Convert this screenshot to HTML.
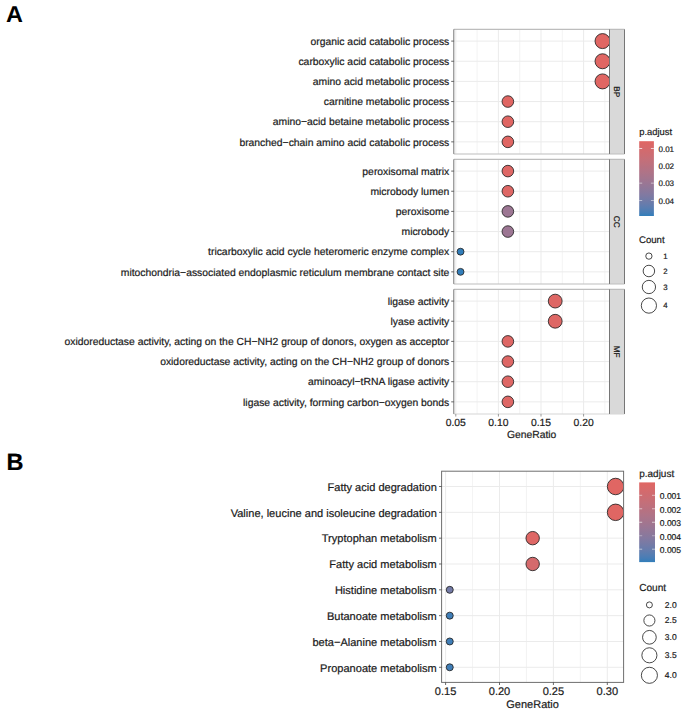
<!DOCTYPE html>
<html><head><meta charset="utf-8"><style>
html,body{margin:0;padding:0;background:#fff;}
svg{display:block;}
</style></head><body>
<svg width="685" height="712" viewBox="0 0 685 712">
<rect width="685" height="712" fill="#ffffff"/>
<g font-family="&quot;Liberation Sans&quot;, sans-serif" text-rendering="geometricPrecision">
<text x="0" y="0" font-size="23.0" font-weight="bold" fill="#000" transform="translate(6.0,22.2) scale(1.02,1)">A</text>
<rect x="453.80" y="29.35" width="155.70" height="124.60" fill="#ffffff" stroke="none" stroke-width="0"/>
<line x1="477.10" y1="29.35" x2="477.10" y2="153.95" stroke="#ebebeb" stroke-width="0.6"/>
<line x1="519.70" y1="29.35" x2="519.70" y2="153.95" stroke="#ebebeb" stroke-width="0.6"/>
<line x1="562.30" y1="29.35" x2="562.30" y2="153.95" stroke="#ebebeb" stroke-width="0.6"/>
<line x1="604.90" y1="29.35" x2="604.90" y2="153.95" stroke="#ebebeb" stroke-width="0.6"/>
<line x1="455.80" y1="29.35" x2="455.80" y2="153.95" stroke="#ebebeb" stroke-width="1.0"/>
<line x1="498.40" y1="29.35" x2="498.40" y2="153.95" stroke="#ebebeb" stroke-width="1.0"/>
<line x1="541.00" y1="29.35" x2="541.00" y2="153.95" stroke="#ebebeb" stroke-width="1.0"/>
<line x1="583.60" y1="29.35" x2="583.60" y2="153.95" stroke="#ebebeb" stroke-width="1.0"/>
<line x1="453.80" y1="41.10" x2="609.50" y2="41.10" stroke="#ebebeb" stroke-width="1.0"/>
<line x1="453.80" y1="61.25" x2="609.50" y2="61.25" stroke="#ebebeb" stroke-width="1.0"/>
<line x1="453.80" y1="81.40" x2="609.50" y2="81.40" stroke="#ebebeb" stroke-width="1.0"/>
<line x1="453.80" y1="101.55" x2="609.50" y2="101.55" stroke="#ebebeb" stroke-width="1.0"/>
<line x1="453.80" y1="121.70" x2="609.50" y2="121.70" stroke="#ebebeb" stroke-width="1.0"/>
<line x1="453.80" y1="141.85" x2="609.50" y2="141.85" stroke="#ebebeb" stroke-width="1.0"/>
<clipPath id="clipA0"><rect x="453.8" y="29.35" width="155.7" height="124.6"/></clipPath>
<g clip-path="url(#clipA0)">
<circle cx="602.53" cy="41.10" r="7.50" fill="#e06663" stroke="#222222" stroke-width="0.85"/>
<circle cx="602.53" cy="61.25" r="7.50" fill="#e06663" stroke="#222222" stroke-width="0.85"/>
<circle cx="602.53" cy="81.40" r="7.50" fill="#e06663" stroke="#222222" stroke-width="0.85"/>
<circle cx="507.87" cy="101.55" r="5.80" fill="#e06663" stroke="#222222" stroke-width="0.85"/>
<circle cx="507.87" cy="121.70" r="5.80" fill="#e06663" stroke="#222222" stroke-width="0.85"/>
<circle cx="507.87" cy="141.85" r="5.80" fill="#e06663" stroke="#222222" stroke-width="0.85"/>
</g>
<rect x="609.50" y="29.35" width="15.00" height="124.60" fill="#d9d9d9" stroke="none" stroke-width="0"/>
<line x1="453.80" y1="29.35" x2="624.50" y2="29.35" stroke="#bdbdbd" stroke-width="1.1"/>
<line x1="453.80" y1="153.95" x2="624.50" y2="153.95" stroke="#bdbdbd" stroke-width="1.1"/>
<line x1="453.80" y1="29.35" x2="453.80" y2="153.95" stroke="#767676" stroke-width="1.0"/>
<line x1="609.50" y1="29.35" x2="609.50" y2="153.95" stroke="#767676" stroke-width="1.0"/>
<line x1="624.50" y1="29.35" x2="624.50" y2="153.95" stroke="#767676" stroke-width="1.0"/>
<text x="0" y="0" font-size="8.2" text-anchor="middle" fill="#1a1a1a" stroke="#1a1a1a" stroke-width="0.25" transform="translate(614.10,91.65) rotate(90)">BP</text>
<line x1="451.20" y1="41.10" x2="453.80" y2="41.10" stroke="#444444" stroke-width="0.8"/>
<text x="449.30" y="44.85" font-size="10.37" text-anchor="end" fill="#1a1a1a" font-weight="normal" stroke="#1a1a1a" stroke-width="0.2" >organic acid catabolic process</text>
<line x1="451.20" y1="61.25" x2="453.80" y2="61.25" stroke="#444444" stroke-width="0.8"/>
<text x="449.30" y="65.00" font-size="10.37" text-anchor="end" fill="#1a1a1a" font-weight="normal" stroke="#1a1a1a" stroke-width="0.2" >carboxylic acid catabolic process</text>
<line x1="451.20" y1="81.40" x2="453.80" y2="81.40" stroke="#444444" stroke-width="0.8"/>
<text x="449.30" y="85.15" font-size="10.37" text-anchor="end" fill="#1a1a1a" font-weight="normal" stroke="#1a1a1a" stroke-width="0.2" >amino acid metabolic process</text>
<line x1="451.20" y1="101.55" x2="453.80" y2="101.55" stroke="#444444" stroke-width="0.8"/>
<text x="449.30" y="105.30" font-size="10.37" text-anchor="end" fill="#1a1a1a" font-weight="normal" stroke="#1a1a1a" stroke-width="0.2" >carnitine metabolic process</text>
<line x1="451.20" y1="121.70" x2="453.80" y2="121.70" stroke="#444444" stroke-width="0.8"/>
<text x="449.30" y="125.45" font-size="10.37" text-anchor="end" fill="#1a1a1a" font-weight="normal" stroke="#1a1a1a" stroke-width="0.2" >amino−acid betaine metabolic process</text>
<line x1="451.20" y1="141.85" x2="453.80" y2="141.85" stroke="#444444" stroke-width="0.8"/>
<text x="449.30" y="145.60" font-size="10.37" text-anchor="end" fill="#1a1a1a" font-weight="normal" stroke="#1a1a1a" stroke-width="0.2" >branched−chain amino acid catabolic process</text>
<rect x="453.80" y="159.35" width="155.70" height="124.60" fill="#ffffff" stroke="none" stroke-width="0"/>
<line x1="477.10" y1="159.35" x2="477.10" y2="283.95" stroke="#ebebeb" stroke-width="0.6"/>
<line x1="519.70" y1="159.35" x2="519.70" y2="283.95" stroke="#ebebeb" stroke-width="0.6"/>
<line x1="562.30" y1="159.35" x2="562.30" y2="283.95" stroke="#ebebeb" stroke-width="0.6"/>
<line x1="604.90" y1="159.35" x2="604.90" y2="283.95" stroke="#ebebeb" stroke-width="0.6"/>
<line x1="455.80" y1="159.35" x2="455.80" y2="283.95" stroke="#ebebeb" stroke-width="1.0"/>
<line x1="498.40" y1="159.35" x2="498.40" y2="283.95" stroke="#ebebeb" stroke-width="1.0"/>
<line x1="541.00" y1="159.35" x2="541.00" y2="283.95" stroke="#ebebeb" stroke-width="1.0"/>
<line x1="583.60" y1="159.35" x2="583.60" y2="283.95" stroke="#ebebeb" stroke-width="1.0"/>
<line x1="453.80" y1="171.10" x2="609.50" y2="171.10" stroke="#ebebeb" stroke-width="1.0"/>
<line x1="453.80" y1="191.25" x2="609.50" y2="191.25" stroke="#ebebeb" stroke-width="1.0"/>
<line x1="453.80" y1="211.40" x2="609.50" y2="211.40" stroke="#ebebeb" stroke-width="1.0"/>
<line x1="453.80" y1="231.55" x2="609.50" y2="231.55" stroke="#ebebeb" stroke-width="1.0"/>
<line x1="453.80" y1="251.70" x2="609.50" y2="251.70" stroke="#ebebeb" stroke-width="1.0"/>
<line x1="453.80" y1="271.85" x2="609.50" y2="271.85" stroke="#ebebeb" stroke-width="1.0"/>
<clipPath id="clipA1"><rect x="453.8" y="159.35" width="155.7" height="124.6"/></clipPath>
<g clip-path="url(#clipA1)">
<circle cx="507.87" cy="171.10" r="5.80" fill="#de6765" stroke="#222222" stroke-width="0.85"/>
<circle cx="507.87" cy="191.25" r="5.80" fill="#de6765" stroke="#222222" stroke-width="0.85"/>
<circle cx="507.87" cy="211.40" r="5.80" fill="#9c7693" stroke="#222222" stroke-width="0.85"/>
<circle cx="507.87" cy="231.55" r="5.80" fill="#9c7693" stroke="#222222" stroke-width="0.85"/>
<circle cx="460.53" cy="251.70" r="3.45" fill="#327eba" stroke="#222222" stroke-width="0.85"/>
<circle cx="460.53" cy="271.85" r="3.45" fill="#327eba" stroke="#222222" stroke-width="0.85"/>
</g>
<rect x="609.50" y="159.35" width="15.00" height="124.60" fill="#d9d9d9" stroke="none" stroke-width="0"/>
<line x1="453.80" y1="159.35" x2="624.50" y2="159.35" stroke="#bdbdbd" stroke-width="1.1"/>
<line x1="453.80" y1="283.95" x2="624.50" y2="283.95" stroke="#bdbdbd" stroke-width="1.1"/>
<line x1="453.80" y1="159.35" x2="453.80" y2="283.95" stroke="#767676" stroke-width="1.0"/>
<line x1="609.50" y1="159.35" x2="609.50" y2="283.95" stroke="#767676" stroke-width="1.0"/>
<line x1="624.50" y1="159.35" x2="624.50" y2="283.95" stroke="#767676" stroke-width="1.0"/>
<text x="0" y="0" font-size="8.2" text-anchor="middle" fill="#1a1a1a" stroke="#1a1a1a" stroke-width="0.25" transform="translate(614.10,221.65) rotate(90)">CC</text>
<line x1="451.20" y1="171.10" x2="453.80" y2="171.10" stroke="#444444" stroke-width="0.8"/>
<text x="449.30" y="174.85" font-size="10.37" text-anchor="end" fill="#1a1a1a" font-weight="normal" stroke="#1a1a1a" stroke-width="0.2" >peroxisomal matrix</text>
<line x1="451.20" y1="191.25" x2="453.80" y2="191.25" stroke="#444444" stroke-width="0.8"/>
<text x="449.30" y="195.00" font-size="10.37" text-anchor="end" fill="#1a1a1a" font-weight="normal" stroke="#1a1a1a" stroke-width="0.2" >microbody lumen</text>
<line x1="451.20" y1="211.40" x2="453.80" y2="211.40" stroke="#444444" stroke-width="0.8"/>
<text x="449.30" y="215.15" font-size="10.37" text-anchor="end" fill="#1a1a1a" font-weight="normal" stroke="#1a1a1a" stroke-width="0.2" >peroxisome</text>
<line x1="451.20" y1="231.55" x2="453.80" y2="231.55" stroke="#444444" stroke-width="0.8"/>
<text x="449.30" y="235.30" font-size="10.37" text-anchor="end" fill="#1a1a1a" font-weight="normal" stroke="#1a1a1a" stroke-width="0.2" >microbody</text>
<line x1="451.20" y1="251.70" x2="453.80" y2="251.70" stroke="#444444" stroke-width="0.8"/>
<text x="449.30" y="255.45" font-size="10.37" text-anchor="end" fill="#1a1a1a" font-weight="normal" stroke="#1a1a1a" stroke-width="0.2" >tricarboxylic acid cycle heteromeric enzyme complex</text>
<line x1="451.20" y1="271.85" x2="453.80" y2="271.85" stroke="#444444" stroke-width="0.8"/>
<text x="449.30" y="275.60" font-size="10.37" text-anchor="end" fill="#1a1a1a" font-weight="normal" stroke="#1a1a1a" stroke-width="0.2" >mitochondria−associated endoplasmic reticulum membrane contact site</text>
<rect x="453.80" y="289.35" width="155.70" height="124.60" fill="#ffffff" stroke="none" stroke-width="0"/>
<line x1="477.10" y1="289.35" x2="477.10" y2="413.95" stroke="#ebebeb" stroke-width="0.6"/>
<line x1="519.70" y1="289.35" x2="519.70" y2="413.95" stroke="#ebebeb" stroke-width="0.6"/>
<line x1="562.30" y1="289.35" x2="562.30" y2="413.95" stroke="#ebebeb" stroke-width="0.6"/>
<line x1="604.90" y1="289.35" x2="604.90" y2="413.95" stroke="#ebebeb" stroke-width="0.6"/>
<line x1="455.80" y1="289.35" x2="455.80" y2="413.95" stroke="#ebebeb" stroke-width="1.0"/>
<line x1="498.40" y1="289.35" x2="498.40" y2="413.95" stroke="#ebebeb" stroke-width="1.0"/>
<line x1="541.00" y1="289.35" x2="541.00" y2="413.95" stroke="#ebebeb" stroke-width="1.0"/>
<line x1="583.60" y1="289.35" x2="583.60" y2="413.95" stroke="#ebebeb" stroke-width="1.0"/>
<line x1="453.80" y1="301.10" x2="609.50" y2="301.10" stroke="#ebebeb" stroke-width="1.0"/>
<line x1="453.80" y1="321.25" x2="609.50" y2="321.25" stroke="#ebebeb" stroke-width="1.0"/>
<line x1="453.80" y1="341.40" x2="609.50" y2="341.40" stroke="#ebebeb" stroke-width="1.0"/>
<line x1="453.80" y1="361.55" x2="609.50" y2="361.55" stroke="#ebebeb" stroke-width="1.0"/>
<line x1="453.80" y1="381.70" x2="609.50" y2="381.70" stroke="#ebebeb" stroke-width="1.0"/>
<line x1="453.80" y1="401.85" x2="609.50" y2="401.85" stroke="#ebebeb" stroke-width="1.0"/>
<clipPath id="clipA2"><rect x="453.8" y="289.35" width="155.7" height="124.6"/></clipPath>
<g clip-path="url(#clipA2)">
<circle cx="555.20" cy="301.10" r="6.90" fill="#de6765" stroke="#222222" stroke-width="0.85"/>
<circle cx="555.20" cy="321.25" r="6.90" fill="#de6765" stroke="#222222" stroke-width="0.85"/>
<circle cx="507.87" cy="341.40" r="5.80" fill="#de6765" stroke="#222222" stroke-width="0.85"/>
<circle cx="507.87" cy="361.55" r="5.80" fill="#de6765" stroke="#222222" stroke-width="0.85"/>
<circle cx="507.87" cy="381.70" r="5.80" fill="#de6765" stroke="#222222" stroke-width="0.85"/>
<circle cx="507.87" cy="401.85" r="5.80" fill="#de6765" stroke="#222222" stroke-width="0.85"/>
</g>
<rect x="609.50" y="289.35" width="15.00" height="124.60" fill="#d9d9d9" stroke="none" stroke-width="0"/>
<line x1="453.80" y1="289.35" x2="624.50" y2="289.35" stroke="#bdbdbd" stroke-width="1.1"/>
<line x1="453.80" y1="413.95" x2="624.50" y2="413.95" stroke="#d6d6d6" stroke-width="1.1"/>
<line x1="453.80" y1="289.35" x2="453.80" y2="413.95" stroke="#767676" stroke-width="1.0"/>
<line x1="609.50" y1="289.35" x2="609.50" y2="413.95" stroke="#767676" stroke-width="1.0"/>
<line x1="624.50" y1="289.35" x2="624.50" y2="413.95" stroke="#767676" stroke-width="1.0"/>
<text x="0" y="0" font-size="8.2" text-anchor="middle" fill="#1a1a1a" stroke="#1a1a1a" stroke-width="0.25" transform="translate(614.10,351.65) rotate(90)">MF</text>
<line x1="451.20" y1="301.10" x2="453.80" y2="301.10" stroke="#444444" stroke-width="0.8"/>
<text x="449.30" y="304.85" font-size="10.37" text-anchor="end" fill="#1a1a1a" font-weight="normal" stroke="#1a1a1a" stroke-width="0.2" >ligase activity</text>
<line x1="451.20" y1="321.25" x2="453.80" y2="321.25" stroke="#444444" stroke-width="0.8"/>
<text x="449.30" y="325.00" font-size="10.37" text-anchor="end" fill="#1a1a1a" font-weight="normal" stroke="#1a1a1a" stroke-width="0.2" >lyase activity</text>
<line x1="451.20" y1="341.40" x2="453.80" y2="341.40" stroke="#444444" stroke-width="0.8"/>
<text x="449.30" y="345.15" font-size="10.37" text-anchor="end" fill="#1a1a1a" font-weight="normal" stroke="#1a1a1a" stroke-width="0.2" >oxidoreductase activity, acting on the CH−NH2 group of donors, oxygen as acceptor</text>
<line x1="451.20" y1="361.55" x2="453.80" y2="361.55" stroke="#444444" stroke-width="0.8"/>
<text x="449.30" y="365.30" font-size="10.37" text-anchor="end" fill="#1a1a1a" font-weight="normal" stroke="#1a1a1a" stroke-width="0.2" >oxidoreductase activity, acting on the CH−NH2 group of donors</text>
<line x1="451.20" y1="381.70" x2="453.80" y2="381.70" stroke="#444444" stroke-width="0.8"/>
<text x="449.30" y="385.45" font-size="10.37" text-anchor="end" fill="#1a1a1a" font-weight="normal" stroke="#1a1a1a" stroke-width="0.2" >aminoacyl−tRNA ligase activity</text>
<line x1="451.20" y1="401.85" x2="453.80" y2="401.85" stroke="#444444" stroke-width="0.8"/>
<text x="449.30" y="405.60" font-size="10.37" text-anchor="end" fill="#1a1a1a" font-weight="normal" stroke="#1a1a1a" stroke-width="0.2" >ligase activity, forming carbon−oxygen bonds</text>
<line x1="455.80" y1="413.95" x2="455.80" y2="416.55" stroke="#9a9a9a" stroke-width="1.0"/>
<text x="455.80" y="425.95" font-size="10.37" text-anchor="middle" fill="#1a1a1a" font-weight="normal" stroke="#1a1a1a" stroke-width="0.2" >0.05</text>
<line x1="498.40" y1="413.95" x2="498.40" y2="416.55" stroke="#9a9a9a" stroke-width="1.0"/>
<text x="498.40" y="425.95" font-size="10.37" text-anchor="middle" fill="#1a1a1a" font-weight="normal" stroke="#1a1a1a" stroke-width="0.2" >0.10</text>
<line x1="541.00" y1="413.95" x2="541.00" y2="416.55" stroke="#9a9a9a" stroke-width="1.0"/>
<text x="541.00" y="425.95" font-size="10.37" text-anchor="middle" fill="#1a1a1a" font-weight="normal" stroke="#1a1a1a" stroke-width="0.2" >0.15</text>
<line x1="583.60" y1="413.95" x2="583.60" y2="416.55" stroke="#9a9a9a" stroke-width="1.0"/>
<text x="583.60" y="425.95" font-size="10.37" text-anchor="middle" fill="#1a1a1a" font-weight="normal" stroke="#1a1a1a" stroke-width="0.2" >0.20</text>
<text x="531.65" y="437.95" font-size="10.35" text-anchor="middle" fill="#1a1a1a" font-weight="normal" stroke="#1a1a1a" stroke-width="0.2" >GeneRatio</text>
<defs><linearGradient id="gA" x1="0" y1="0" x2="0" y2="1"><stop offset="0.000" stop-color="#e06663"/><stop offset="0.050" stop-color="#db6867"/><stop offset="0.100" stop-color="#d56a6c"/><stop offset="0.150" stop-color="#cf6b70"/><stop offset="0.200" stop-color="#ca6d74"/><stop offset="0.250" stop-color="#c46f79"/><stop offset="0.300" stop-color="#be707d"/><stop offset="0.350" stop-color="#b77181"/><stop offset="0.400" stop-color="#b17386"/><stop offset="0.450" stop-color="#aa748a"/><stop offset="0.500" stop-color="#a3758e"/><stop offset="0.550" stop-color="#9c7693"/><stop offset="0.600" stop-color="#947797"/><stop offset="0.650" stop-color="#8c789b"/><stop offset="0.700" stop-color="#8479a0"/><stop offset="0.750" stop-color="#7a7aa4"/><stop offset="0.800" stop-color="#707ba8"/><stop offset="0.850" stop-color="#657cad"/><stop offset="0.900" stop-color="#577db1"/><stop offset="0.950" stop-color="#487db6"/><stop offset="1.000" stop-color="#327eba"/></linearGradient></defs>
<rect x="639.20" y="141.20" width="14.70" height="74.80" fill="url(#gA)" stroke="none" stroke-width="0"/>
<g opacity="0.8">
<line x1="639.20" y1="148.50" x2="642.20" y2="148.50" stroke="#ffffff" stroke-width="0.9"/>
<line x1="650.90" y1="148.50" x2="653.90" y2="148.50" stroke="#ffffff" stroke-width="0.9"/>
</g>
<g opacity="0.55">
<line x1="639.20" y1="183.16" x2="642.20" y2="183.16" stroke="#ffffff" stroke-width="0.9"/>
<line x1="650.90" y1="183.16" x2="653.90" y2="183.16" stroke="#ffffff" stroke-width="0.9"/>
</g>
<g opacity="0.55">
<line x1="639.20" y1="200.49" x2="642.20" y2="200.49" stroke="#ffffff" stroke-width="0.9"/>
<line x1="650.90" y1="200.49" x2="653.90" y2="200.49" stroke="#ffffff" stroke-width="0.9"/>
</g>
<text x="658.50" y="151.70" font-size="8.0" text-anchor="start" fill="#1a1a1a" font-weight="normal" stroke="#1a1a1a" stroke-width="0.2" >0.01</text>
<text x="658.50" y="169.03" font-size="8.0" text-anchor="start" fill="#1a1a1a" font-weight="normal" stroke="#1a1a1a" stroke-width="0.2" >0.02</text>
<text x="658.50" y="186.36" font-size="8.0" text-anchor="start" fill="#1a1a1a" font-weight="normal" stroke="#1a1a1a" stroke-width="0.2" >0.03</text>
<text x="658.50" y="203.69" font-size="8.0" text-anchor="start" fill="#1a1a1a" font-weight="normal" stroke="#1a1a1a" stroke-width="0.2" >0.04</text>
<text x="639.20" y="135.30" font-size="9.4" text-anchor="start" fill="#1a1a1a" font-weight="normal" stroke="#1a1a1a" stroke-width="0.2" >p.adjust</text>
<text x="639.00" y="243.00" font-size="9.6" text-anchor="start" fill="#1a1a1a" font-weight="normal" stroke="#1a1a1a" stroke-width="0.2" >Count</text>
<circle cx="648.9" cy="256.10" r="3.15" fill="none" stroke="#1a1a1a" stroke-width="0.8"/>
<text x="663.30" y="258.90" font-size="7.8" text-anchor="start" fill="#1a1a1a" font-weight="normal" stroke="#1a1a1a" stroke-width="0.2" >1</text>
<circle cx="648.9" cy="271.00" r="5.75" fill="none" stroke="#1a1a1a" stroke-width="0.8"/>
<text x="663.30" y="273.80" font-size="7.8" text-anchor="start" fill="#1a1a1a" font-weight="normal" stroke="#1a1a1a" stroke-width="0.2" >2</text>
<circle cx="648.9" cy="287.00" r="6.65" fill="none" stroke="#1a1a1a" stroke-width="0.8"/>
<text x="663.30" y="289.80" font-size="7.8" text-anchor="start" fill="#1a1a1a" font-weight="normal" stroke="#1a1a1a" stroke-width="0.2" >3</text>
<circle cx="648.9" cy="305.60" r="7.60" fill="none" stroke="#1a1a1a" stroke-width="0.8"/>
<text x="663.30" y="308.40" font-size="7.8" text-anchor="start" fill="#1a1a1a" font-weight="normal" stroke="#1a1a1a" stroke-width="0.2" >4</text>
<text x="6.50" y="469.80" font-size="23.5" text-anchor="start" fill="#000" font-weight="bold" stroke="#000" stroke-width="0.2" >B</text>
<rect x="441.60" y="471.20" width="182.00" height="211.20" fill="#ffffff" stroke="none" stroke-width="0"/>
<line x1="472.55" y1="471.20" x2="472.55" y2="682.40" stroke="#ebebeb" stroke-width="0.6"/>
<line x1="526.45" y1="471.20" x2="526.45" y2="682.40" stroke="#ebebeb" stroke-width="0.6"/>
<line x1="580.35" y1="471.20" x2="580.35" y2="682.40" stroke="#ebebeb" stroke-width="0.6"/>
<line x1="445.60" y1="471.20" x2="445.60" y2="682.40" stroke="#ebebeb" stroke-width="1.0"/>
<line x1="499.50" y1="471.20" x2="499.50" y2="682.40" stroke="#ebebeb" stroke-width="1.0"/>
<line x1="553.40" y1="471.20" x2="553.40" y2="682.40" stroke="#ebebeb" stroke-width="1.0"/>
<line x1="607.30" y1="471.20" x2="607.30" y2="682.40" stroke="#ebebeb" stroke-width="1.0"/>
<line x1="441.60" y1="486.50" x2="623.60" y2="486.50" stroke="#ebebeb" stroke-width="1.0"/>
<line x1="441.60" y1="512.33" x2="623.60" y2="512.33" stroke="#ebebeb" stroke-width="1.0"/>
<line x1="441.60" y1="538.16" x2="623.60" y2="538.16" stroke="#ebebeb" stroke-width="1.0"/>
<line x1="441.60" y1="563.99" x2="623.60" y2="563.99" stroke="#ebebeb" stroke-width="1.0"/>
<line x1="441.60" y1="589.82" x2="623.60" y2="589.82" stroke="#ebebeb" stroke-width="1.0"/>
<line x1="441.60" y1="615.65" x2="623.60" y2="615.65" stroke="#ebebeb" stroke-width="1.0"/>
<line x1="441.60" y1="641.48" x2="623.60" y2="641.48" stroke="#ebebeb" stroke-width="1.0"/>
<line x1="441.60" y1="667.31" x2="623.60" y2="667.31" stroke="#ebebeb" stroke-width="1.0"/>
<clipPath id="clipB"><rect x="441.6" y="471.2" width="182.0" height="211.2"/></clipPath>
<g clip-path="url(#clipB)">
<circle cx="615.59" cy="486.50" r="8.25" fill="#e06663" stroke="#222222" stroke-width="0.85"/>
<circle cx="615.59" cy="512.33" r="8.25" fill="#e06663" stroke="#222222" stroke-width="0.85"/>
<circle cx="532.67" cy="538.16" r="6.70" fill="#de6765" stroke="#222222" stroke-width="0.85"/>
<circle cx="532.67" cy="563.99" r="6.70" fill="#d56a6c" stroke="#222222" stroke-width="0.85"/>
<circle cx="449.75" cy="589.82" r="3.50" fill="#747ba7" stroke="#222222" stroke-width="0.85"/>
<circle cx="449.75" cy="615.65" r="3.50" fill="#407eb7" stroke="#222222" stroke-width="0.85"/>
<circle cx="449.75" cy="641.48" r="3.50" fill="#407eb7" stroke="#222222" stroke-width="0.85"/>
<circle cx="449.75" cy="667.31" r="3.50" fill="#407eb7" stroke="#222222" stroke-width="0.85"/>
</g>
<rect x="441.60" y="471.20" width="182.00" height="211.20" fill="none" stroke="#6e6e6e" stroke-width="1.0"/>
<line x1="439.00" y1="486.50" x2="441.60" y2="486.50" stroke="#444444" stroke-width="0.8"/>
<text x="436.80" y="490.70" font-size="11.05" text-anchor="end" fill="#1a1a1a" font-weight="normal" stroke="#1a1a1a" stroke-width="0.2" >Fatty acid degradation</text>
<line x1="439.00" y1="512.33" x2="441.60" y2="512.33" stroke="#444444" stroke-width="0.8"/>
<text x="436.80" y="516.53" font-size="11.05" text-anchor="end" fill="#1a1a1a" font-weight="normal" stroke="#1a1a1a" stroke-width="0.2" >Valine, leucine and isoleucine degradation</text>
<line x1="439.00" y1="538.16" x2="441.60" y2="538.16" stroke="#444444" stroke-width="0.8"/>
<text x="436.80" y="542.36" font-size="11.05" text-anchor="end" fill="#1a1a1a" font-weight="normal" stroke="#1a1a1a" stroke-width="0.2" >Tryptophan metabolism</text>
<line x1="439.00" y1="563.99" x2="441.60" y2="563.99" stroke="#444444" stroke-width="0.8"/>
<text x="436.80" y="568.19" font-size="11.05" text-anchor="end" fill="#1a1a1a" font-weight="normal" stroke="#1a1a1a" stroke-width="0.2" >Fatty acid metabolism</text>
<line x1="439.00" y1="589.82" x2="441.60" y2="589.82" stroke="#444444" stroke-width="0.8"/>
<text x="436.80" y="594.02" font-size="11.05" text-anchor="end" fill="#1a1a1a" font-weight="normal" stroke="#1a1a1a" stroke-width="0.2" >Histidine metabolism</text>
<line x1="439.00" y1="615.65" x2="441.60" y2="615.65" stroke="#444444" stroke-width="0.8"/>
<text x="436.80" y="619.85" font-size="11.05" text-anchor="end" fill="#1a1a1a" font-weight="normal" stroke="#1a1a1a" stroke-width="0.2" >Butanoate metabolism</text>
<line x1="439.00" y1="641.48" x2="441.60" y2="641.48" stroke="#444444" stroke-width="0.8"/>
<text x="436.80" y="645.68" font-size="11.05" text-anchor="end" fill="#1a1a1a" font-weight="normal" stroke="#1a1a1a" stroke-width="0.2" >beta−Alanine metabolism</text>
<line x1="439.00" y1="667.31" x2="441.60" y2="667.31" stroke="#444444" stroke-width="0.8"/>
<text x="436.80" y="671.51" font-size="11.05" text-anchor="end" fill="#1a1a1a" font-weight="normal" stroke="#1a1a1a" stroke-width="0.2" >Propanoate metabolism</text>
<line x1="445.60" y1="682.40" x2="445.60" y2="685.00" stroke="#444444" stroke-width="0.8"/>
<text x="445.60" y="695.40" font-size="11.05" text-anchor="middle" fill="#1a1a1a" font-weight="normal" stroke="#1a1a1a" stroke-width="0.2" >0.15</text>
<line x1="499.50" y1="682.40" x2="499.50" y2="685.00" stroke="#444444" stroke-width="0.8"/>
<text x="499.50" y="695.40" font-size="11.05" text-anchor="middle" fill="#1a1a1a" font-weight="normal" stroke="#1a1a1a" stroke-width="0.2" >0.20</text>
<line x1="553.40" y1="682.40" x2="553.40" y2="685.00" stroke="#444444" stroke-width="0.8"/>
<text x="553.40" y="695.40" font-size="11.05" text-anchor="middle" fill="#1a1a1a" font-weight="normal" stroke="#1a1a1a" stroke-width="0.2" >0.25</text>
<line x1="607.30" y1="682.40" x2="607.30" y2="685.00" stroke="#444444" stroke-width="0.8"/>
<text x="607.30" y="695.40" font-size="11.05" text-anchor="middle" fill="#1a1a1a" font-weight="normal" stroke="#1a1a1a" stroke-width="0.2" >0.30</text>
<text x="532.60" y="708.40" font-size="11.0" text-anchor="middle" fill="#1a1a1a" font-weight="normal" stroke="#1a1a1a" stroke-width="0.2" >GeneRatio</text>
<defs><linearGradient id="gB" x1="0" y1="0" x2="0" y2="1"><stop offset="0.000" stop-color="#e06663"/><stop offset="0.050" stop-color="#db6867"/><stop offset="0.100" stop-color="#d56a6c"/><stop offset="0.150" stop-color="#cf6b70"/><stop offset="0.200" stop-color="#ca6d74"/><stop offset="0.250" stop-color="#c46f79"/><stop offset="0.300" stop-color="#be707d"/><stop offset="0.350" stop-color="#b77181"/><stop offset="0.400" stop-color="#b17386"/><stop offset="0.450" stop-color="#aa748a"/><stop offset="0.500" stop-color="#a3758e"/><stop offset="0.550" stop-color="#9c7693"/><stop offset="0.600" stop-color="#947797"/><stop offset="0.650" stop-color="#8c789b"/><stop offset="0.700" stop-color="#8479a0"/><stop offset="0.750" stop-color="#7a7aa4"/><stop offset="0.800" stop-color="#707ba8"/><stop offset="0.850" stop-color="#657cad"/><stop offset="0.900" stop-color="#577db1"/><stop offset="0.950" stop-color="#487db6"/><stop offset="1.000" stop-color="#327eba"/></linearGradient></defs>
<rect x="639.20" y="482.40" width="15.80" height="79.70" fill="url(#gB)" stroke="none" stroke-width="0"/>
<g opacity="0.6">
<line x1="639.20" y1="495.30" x2="642.20" y2="495.30" stroke="#ffffff" stroke-width="0.9"/>
<line x1="652.00" y1="495.30" x2="655.00" y2="495.30" stroke="#ffffff" stroke-width="0.9"/>
</g>
<g opacity="0.6">
<line x1="639.20" y1="508.78" x2="642.20" y2="508.78" stroke="#ffffff" stroke-width="0.9"/>
<line x1="652.00" y1="508.78" x2="655.00" y2="508.78" stroke="#ffffff" stroke-width="0.9"/>
</g>
<g opacity="0.7">
<line x1="639.20" y1="522.25" x2="642.20" y2="522.25" stroke="#ffffff" stroke-width="0.9"/>
<line x1="652.00" y1="522.25" x2="655.00" y2="522.25" stroke="#ffffff" stroke-width="0.9"/>
</g>
<g opacity="0.4">
<line x1="639.20" y1="535.73" x2="642.20" y2="535.73" stroke="#ffffff" stroke-width="0.9"/>
<line x1="652.00" y1="535.73" x2="655.00" y2="535.73" stroke="#ffffff" stroke-width="0.9"/>
</g>
<g opacity="0.6">
<line x1="639.20" y1="549.20" x2="642.20" y2="549.20" stroke="#ffffff" stroke-width="0.9"/>
<line x1="652.00" y1="549.20" x2="655.00" y2="549.20" stroke="#ffffff" stroke-width="0.9"/>
</g>
<text x="659.80" y="499.10" font-size="8.5" text-anchor="start" fill="#1a1a1a" font-weight="normal" stroke="#1a1a1a" stroke-width="0.2" >0.001</text>
<text x="659.80" y="512.58" font-size="8.5" text-anchor="start" fill="#1a1a1a" font-weight="normal" stroke="#1a1a1a" stroke-width="0.2" >0.002</text>
<text x="659.80" y="526.05" font-size="8.5" text-anchor="start" fill="#1a1a1a" font-weight="normal" stroke="#1a1a1a" stroke-width="0.2" >0.003</text>
<text x="659.80" y="539.52" font-size="8.5" text-anchor="start" fill="#1a1a1a" font-weight="normal" stroke="#1a1a1a" stroke-width="0.2" >0.004</text>
<text x="659.80" y="553.00" font-size="8.5" text-anchor="start" fill="#1a1a1a" font-weight="normal" stroke="#1a1a1a" stroke-width="0.2" >0.005</text>
<text x="639.20" y="476.60" font-size="10.0" text-anchor="start" fill="#1a1a1a" font-weight="normal" stroke="#1a1a1a" stroke-width="0.2" >p.adjust</text>
<text x="639.20" y="590.80" font-size="10.1" text-anchor="start" fill="#1a1a1a" font-weight="normal" stroke="#1a1a1a" stroke-width="0.2" >Count</text>
<circle cx="649.4" cy="604.90" r="3.00" fill="none" stroke="#1a1a1a" stroke-width="0.8"/>
<text x="664.80" y="607.50" font-size="8.5" text-anchor="start" fill="#1a1a1a" font-weight="normal" stroke="#1a1a1a" stroke-width="0.2" >2.0</text>
<circle cx="649.4" cy="620.50" r="5.55" fill="none" stroke="#1a1a1a" stroke-width="0.8"/>
<text x="664.80" y="623.10" font-size="8.5" text-anchor="start" fill="#1a1a1a" font-weight="normal" stroke="#1a1a1a" stroke-width="0.2" >2.5</text>
<circle cx="649.4" cy="637.30" r="6.85" fill="none" stroke="#1a1a1a" stroke-width="0.8"/>
<text x="664.80" y="639.90" font-size="8.5" text-anchor="start" fill="#1a1a1a" font-weight="normal" stroke="#1a1a1a" stroke-width="0.2" >3.0</text>
<circle cx="649.4" cy="655.30" r="7.55" fill="none" stroke="#1a1a1a" stroke-width="0.8"/>
<text x="664.80" y="657.90" font-size="8.5" text-anchor="start" fill="#1a1a1a" font-weight="normal" stroke="#1a1a1a" stroke-width="0.2" >3.5</text>
<circle cx="649.4" cy="675.30" r="8.05" fill="none" stroke="#1a1a1a" stroke-width="0.8"/>
<text x="664.80" y="677.90" font-size="8.5" text-anchor="start" fill="#1a1a1a" font-weight="normal" stroke="#1a1a1a" stroke-width="0.2" >4.0</text>
</g>
</svg>
</body></html>
